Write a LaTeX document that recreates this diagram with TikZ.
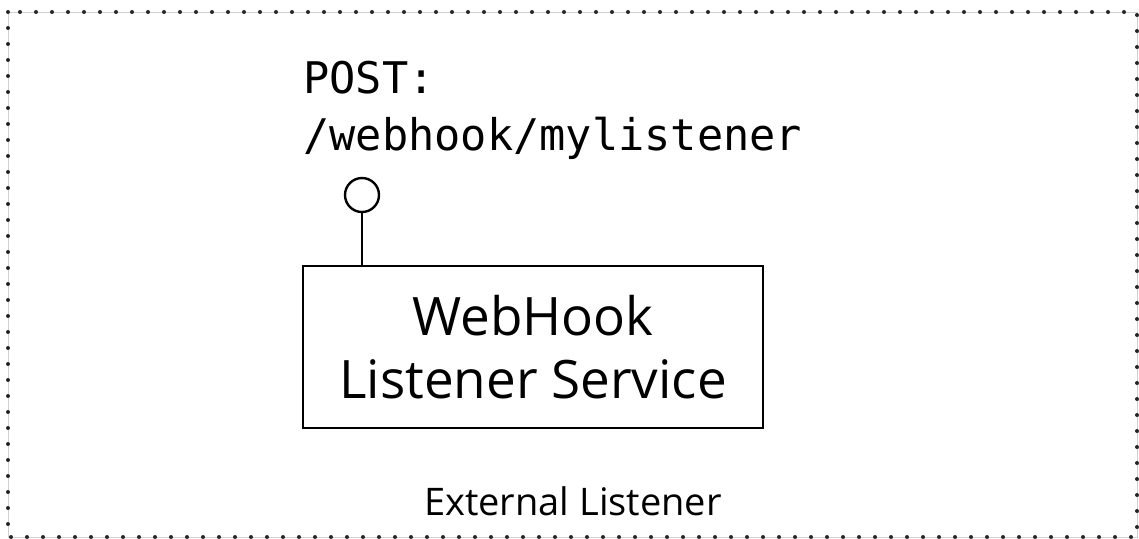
\documentclass[tikz,border=0pt]{standalone}
\usepackage{fontspec}
\setmainfont{Open Sans}
\newfontfamily\codefont{DejaVu Sans Mono}
\usepackage{tikz}
\usetikzlibrary{positioning,calc}
\definecolor{inkgray}{HTML}{D0D0D0}
\tikzset{frame/.style={draw=black!85,line width=2pt,line cap=round,dash pattern=on 0pt off 8pt},
  service/.style={draw,line width=1.4pt,minimum width=230pt,minimum height=81pt,
  align=center,inner sep=0pt,font=\fontsize{26.5pt}{31.5pt}\selectfont},
  port/.style={circle,draw,line width=1.2pt,minimum size=17pt,inner sep=0pt},
  endpoint/.style={align=left,inner sep=0pt,font=\codefont\fontsize{21.8pt}{28.5pt}\selectfont},
  flabel/.style={inner sep=0pt,font=\fontsize{19pt}{23pt}\selectfont}}

\begin{document}
\begin{tikzpicture}[x=0.5pt,y=-0.5pt]
 \useasboundingbox (0,0) rectangle (1139,538);
 % external listener frame
 \draw[inkgray,line width=0.5pt] (8,12) rectangle (1137,537);
 \draw[frame] (8,12) rectangle (1137,537);
 \node[flabel,anchor=base] (fname) at (573,515) {External Listener};
 % service with its exposed endpoint
 \node[service] (svc) at (533,347) {WebHook\\Listener Service};
 \node[port] (hook) at (362,195) {};
 \draw[line width=1.2pt] (hook.south)--(hook.south |- svc.north);
 \node[endpoint,anchor=base west] (url) at (303,150) {POST:\\/webhook/mylistener};
\end{tikzpicture}
\end{document}
